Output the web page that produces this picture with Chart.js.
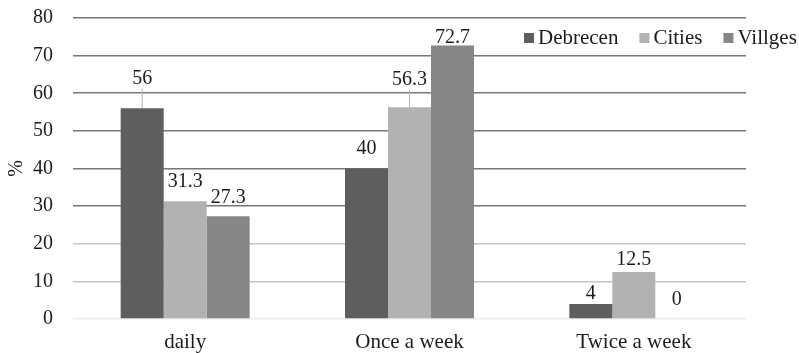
<!DOCTYPE html>
<html>
<head>
<meta charset="utf-8">
<script src="https://cdn.jsdelivr.net/npm/chart.js@4.4.0/dist/chart.umd.min.js"></script>
<style>
  html, body { margin: 0; padding: 0; background: #fff; }
  #wrap { width: 799px; height: 353px; position: relative; }
</style>
</head>
<body>
<div id="wrap"><canvas id="freqChart"></canvas></div>
<script>
// survey answers, percent of respondents
const categories = ['daily', 'Once a week', 'Twice a week'];
const seriesNames = ['Debrecen', 'Cities', 'Villges'];
const debrecen = [56, 40, 4];
const cities = [31.3, 56.3, 12.5];
const villges = [27.3, 72.7, 0];
const yMin = 0, yMax = 80, yStep = 10;

const serif = "'Liberation Serif', 'Times New Roman', serif";
const textColor = '#1c1c1c';
const colors = ['#5e5e5e', '#b2b2b2', '#868686'];

// how far above the bar top each value label sits (px), per series / category
const labelLift = [[30, 20, 10], [19, 27, 12], [19, 8, 19]];

const valueLabels = {
  id: 'valueLabels',
  afterDatasetsDraw(chart) {
    const ctx = chart.ctx;
    ctx.save();
    ctx.font = '20px ' + serif;
    ctx.fillStyle = textColor;
    ctx.textAlign = 'center';
    ctx.textBaseline = 'middle';
    chart.data.datasets.forEach((ds, i) => {
      chart.getDatasetMeta(i).data.forEach((bar, j) => {
        const lift = labelLift[i][j];
        const y = bar.y - lift;
        if (lift > 24) {
          // leader line down to the bar
          ctx.strokeStyle = '#b0b0b0';
          ctx.lineWidth = 1;
          ctx.beginPath();
          ctx.moveTo(bar.x, y + 10);
          ctx.lineTo(bar.x, bar.y);
          ctx.stroke();
        }
        ctx.fillText(String(ds.data[j]), bar.x, y);
      });
    });
    ctx.restore();
  }
};

// legend squeezed into the top right corner of the plot
const cornerLegend = {
  id: 'cornerLegend',
  afterDraw(chart) {
    const ctx = chart.ctx;
    ctx.save();
    ctx.font = '21px ' + serif;
    ctx.textBaseline = 'middle';
    let x = 524;
    const y = 38;
    chart.data.datasets.forEach((ds, i) => {
      ctx.fillStyle = ds.backgroundColor;
      ctx.fillRect(x, y - 5, 10, 10);
      x += 14;
      ctx.fillStyle = textColor;
      ctx.fillText(ds.label, x, y);
      x += ctx.measureText(ds.label).width + 21;
    });
    ctx.restore();
  }
};

new Chart(document.getElementById('freqChart'), {
  type: 'bar',
  data: {
    labels: categories,
    datasets: [
      { label: seriesNames[0], data: debrecen, backgroundColor: colors[0] },
      { label: seriesNames[1], data: cities, backgroundColor: colors[1] },
      { label: seriesNames[2], data: villges, backgroundColor: colors[2] }
    ]
  },
  options: {
    responsive: true,
    maintainAspectRatio: false,
    animation: false,
    layout: { padding: { top: 18, right: 53, bottom: 0, left: 0 } },
    datasets: {
      bar: { barPercentage: 1, categoryPercentage: 0.575 }
    },
    plugins: {
      legend: { display: false },
      tooltip: { enabled: false }
    },
    scales: {
      x: {
        grid: { display: false, drawTicks: false },
        border: { display: false },
        ticks: { color: textColor, font: { family: serif, size: 21 }, padding: 11 },
        afterFit(scale) { scale.height = 34; }
      },
      y: {
        min: yMin,
        max: yMax,
        ticks: { stepSize: yStep, color: textColor, font: { family: serif, size: 20 }, padding: 20 },
        grid: {
          drawTicks: false,
          lineWidth: 1.6,
          color(c) {
            const v = c.tick ? c.tick.value : 0;
            if (v === 0) return '#ececec';
            if (v <= 20) return '#c4c4c4';
            return '#777777';
          }
        },
        border: { display: false },
        title: {
          display: true,
          text: '%',
          color: textColor,
          font: { family: serif, size: 20 },
          padding: { top: 5, bottom: 0 }
        },
        afterFit(scale) {
          scale.width = 73;
          scale.paddingTop = 0;
          scale.paddingBottom = 0;
        }
      }
    }
  },
  plugins: [valueLabels, cornerLegend]
});
</script>
</body>
</html>
